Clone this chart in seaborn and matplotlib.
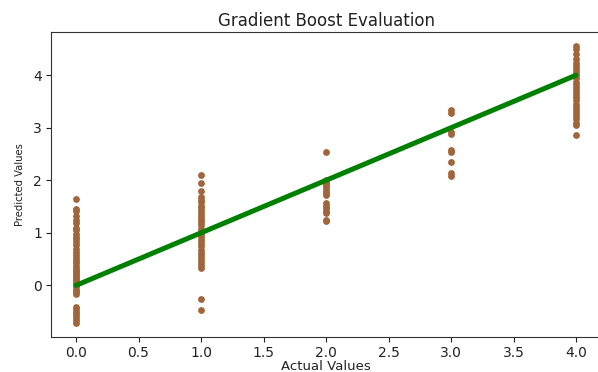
import matplotlib
matplotlib.use("Agg")
import matplotlib.pyplot as plt
import seaborn as sns
import pandas as pd

# ---- data ----
actual_0 = [1.64, 1.46, 1.42, 1.32, 1.25, 1.18, 1.10, 1.05, 0.98, 0.92, 0.88, 0.82,
            0.76, 0.70, 0.64, 0.58, 0.52, 0.47, 0.42, 0.37, 0.32, 0.28, 0.24, 0.20,
            0.16, 0.12, 0.08, 0.04, 0.00, -0.04, -0.08, -0.12, -0.17,
            -0.41, -0.45, -0.50, -0.55, -0.60, -0.66, -0.71]
actual_1 = [2.11, 1.94, 1.80, 1.68, 1.62, 1.58, 1.52, 1.47, 1.42, 1.36, 1.30, 1.25,
            1.20, 1.14, 1.08, 1.02, 0.97, 0.92, 0.86, 0.80, 0.74, 0.68, 0.62, 0.56,
            0.50, 0.44, 0.38, 0.33, -0.25, -0.47]
actual_2 = [2.53, 2.01, 1.97, 1.93, 1.89, 1.85, 1.80, 1.76, 1.72, 1.56, 1.52, 1.47,
            1.42, 1.38, 1.25, 1.22]
actual_3 = [3.33, 3.29, 2.92, 2.88, 2.58, 2.53, 2.35, 2.13, 2.08]
actual_4 = [4.55, 4.50, 4.40, 4.30, 4.24, 4.18, 4.12, 4.06, 4.00, 3.94, 3.88, 3.82,
            3.76, 3.70, 3.64, 3.58, 3.52, 3.46, 3.40, 3.34, 3.28, 3.22, 3.16, 3.10,
            3.05, 2.86]
actual_classes = [0.0, 1.0, 2.0, 3.0, 4.0]
ideal_x = [0.0, 4.0]
ideal_y = [0.0, 4.0]

groups = [actual_0, actual_1, actual_2, actual_3, actual_4]
xs, ys = [], []
for c, vals in zip(actual_classes, groups):
    xs += [c] * len(vals)
    ys += vals
df = pd.DataFrame({"actual": xs, "predicted": ys})
line_df = pd.DataFrame({"actual": ideal_x, "predicted": ideal_y})

sns.set_style("ticks")
plt.rcParams["font.family"] = ["DejaVu Sans"]

fig = plt.figure(figsize=(5.98, 3.72), dpi=100)
ax = fig.add_axes([51 / 598, (372 - 336.5) / 372, 550 / 598, (336.5 - 32.5) / 372])

sns.scatterplot(data=df, x="actual", y="predicted", ax=ax, color="#a0653a",
                s=24, linewidth=0)
sns.lineplot(data=line_df, x="actual", y="predicted", ax=ax, color="green",
             linewidth=3.6)

ax.set_title("Gradient Boost Evaluation", fontsize=12, pad=5, color="#222222")
ax.set_xlabel("Actual Values", fontsize=9.5, labelpad=0, color="#222222")
ax.set_ylabel("Predicted Values", fontsize=8, fontstretch="condensed",
              labelpad=6, color="#222222")
ax.tick_params(labelsize=10, pad=3, colors="#222222")
for sp in ax.spines.values():
    sp.set_visible(True)
    sp.set_color("#333333")

fig.savefig("out.png", dpi=100)
